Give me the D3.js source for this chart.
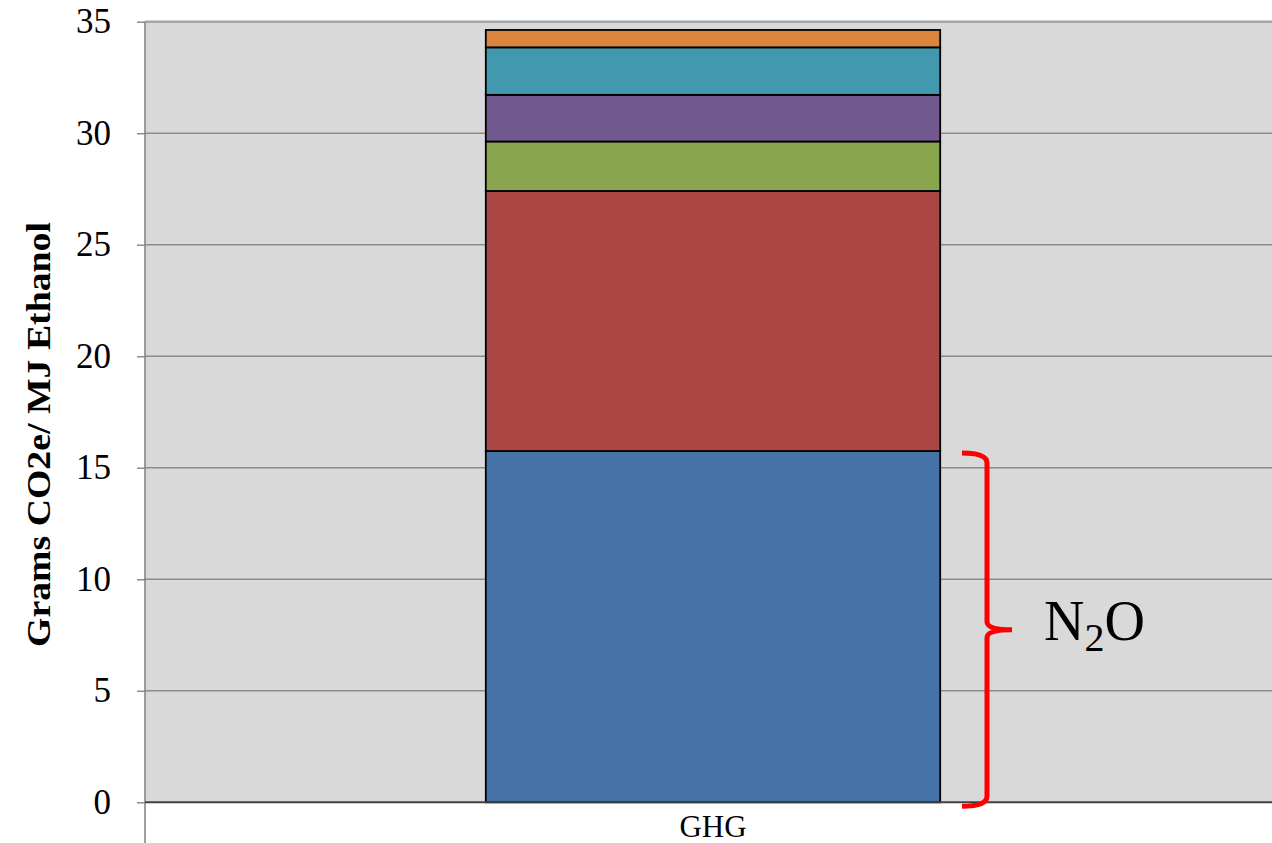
<!DOCTYPE html>
<html>
<head>
<meta charset="utf-8">
<style>
  html, body { margin: 0; padding: 0; background: #fff; overflow: hidden; }
  svg { display: block; }
  .serif { font-family: "Liberation Serif", Tinos, "Times New Roman", Times, serif; }
  .math { font-family: "Liberation Serif", "DejaVu Serif", serif; }
</style>
<script src="https://cdn.jsdelivr.net/npm/d3@7"></script>
</head>
<body>
<svg id="chart" width="1272" height="843"></svg>
<script>
// Stacked emissions for one pathway, bottom to top
const categories = ["GHG"];
const seriesNames = ["s1", "s2", "s3", "s4", "s5", "s6"];
const seriesValues = [15.75, 11.66, 2.22, 2.09, 2.13, 0.78];
const seriesColors = ["#4573a7", "#aa4643", "#89a54e", "#71588f", "#4198af", "#db843d"];
const yTicks = [0, 5, 10, 15, 20, 25, 30, 35];
const yTitle = "Grams CO2e/ MJ Ethanol";
const bracketSeries = "s1";

const svg = d3.select("#chart");
const plotLeft = 145, plotRight = 1281, plotTop = 21.7, plotBottom = 802.3;

const x = d3.scaleBand().domain(categories).range([plotLeft, plotRight])
  .paddingInner(0).paddingOuter(0.75);
const y = d3.scaleLinear().domain([0, 35]).range([plotBottom, plotTop]);

// plot background
svg.append("rect")
  .attr("x", plotLeft).attr("y", plotTop)
  .attr("width", 1272 - plotLeft).attr("height", plotBottom - plotTop)
  .attr("fill", "#d9d9d9");

// horizontal gridlines
svg.append("g").selectAll("line")
  .data(yTicks.filter(d => d > 0))
  .join("line")
  .attr("x1", plotLeft).attr("x2", 1272)
  .attr("y1", d => y(d)).attr("y2", d => y(d))
  .attr("stroke", d => d === 35 ? "#a6a6a6" : "#8c8c8c")
  .attr("stroke-width", d => d === 35 ? 2.5 : 1.5);

// y axis with outward ticks
const yAxis = svg.append("g")
  .attr("transform", `translate(${plotLeft},0)`)
  .call(d3.axisLeft(y).tickValues(yTicks).tickSize(8).tickPadding(26).tickSizeOuter(0));
yAxis.attr("font-family", null).attr("font-size", null);
yAxis.select(".domain").remove();
yAxis.selectAll(".tick line").attr("stroke", "#8c8c8c").attr("stroke-width", 1.5);
yAxis.selectAll(".tick text")
  .attr("class", "serif")
  .style("font-size", "35px").attr("fill", "#000");

// vertical axis line, continuing below the baseline as the category divider
svg.append("line")
  .attr("x1", plotLeft).attr("x2", plotLeft)
  .attr("y1", plotTop).attr("y2", 843)
  .attr("stroke", "#7f7f7f").attr("stroke-width", 1.5);

// stacked bar segments
const row = {};
seriesNames.forEach((n, i) => row[n] = seriesValues[i]);
row.cat = categories[0];
const stacked = d3.stack().keys(seriesNames)([row]);

svg.append("g").selectAll("rect")
  .data(stacked)
  .join("rect")
  .attr("x", d => x(d[0].data.cat))
  .attr("width", x.bandwidth())
  .attr("y", d => y(d[0][1]))
  .attr("height", d => y(d[0][0]) - y(d[0][1]))
  .attr("fill", (d, i) => seriesColors[i])
  .attr("stroke", "#000").attr("stroke-width", 1.8);

// baseline
svg.append("line")
  .attr("x1", plotLeft).attr("x2", 1272)
  .attr("y1", y(0)).attr("y2", y(0))
  .attr("stroke", "#404040").attr("stroke-width", 2);

// category label
svg.append("g").selectAll("text")
  .data(categories)
  .join("text")
  .attr("class", "serif")
  .attr("x", d => x(d) + x.bandwidth() / 2)
  .attr("y", 837)
  .attr("text-anchor", "middle")
  .style("font-size", "31px")
  .attr("fill", "#000")
  .text(d => d);

// y axis title
svg.append("text")
  .attr("class", "serif")
  .attr("transform", "translate(50,434.5) rotate(-90)")
  .attr("text-anchor", "middle")
  .style("font-weight", "bold")
  .style("font-size", "34px")
  .attr("textLength", 425)
  .attr("lengthAdjust", "spacingAndGlyphs")
  .attr("fill", "#000")
  .text(yTitle);

// curly bracket spanning the bottom segment
const seg = stacked.find(s => s.key === bracketSeries)[0];
const bTop = y(seg[1]) + 2, bBot = y(seg[0]) + 4;
const bMid = (bTop + bBot) / 2;
const bx = 987;
const bracket = d3.path();
bracket.moveTo(bx - 25, bTop);
bracket.quadraticCurveTo(bx, bTop, bx, bTop + 10);
bracket.lineTo(bx, bMid - 8);
bracket.quadraticCurveTo(bx, bMid, bx + 25, bMid);
bracket.quadraticCurveTo(bx, bMid, bx, bMid + 8);
bracket.lineTo(bx, bBot - 10);
bracket.quadraticCurveTo(bx, bBot, bx - 25, bBot);
svg.append("path")
  .attr("d", bracket.toString())
  .attr("fill", "none")
  .attr("stroke", "#ff0000")
  .attr("stroke-width", 5)
  .attr("stroke-linecap", "butt");

// bracket label
const lbl = svg.append("text")
  .attr("class", "math")
  .attr("x", 1044).attr("y", 640)
  .style("font-size", "56px")
  .attr("fill", "#000");
lbl.append("tspan").text("N");
lbl.append("tspan").style("font-size", "40px").attr("dy", 11).text("2");
lbl.append("tspan").attr("dy", -11).text("O");
</script>
</body>
</html>
